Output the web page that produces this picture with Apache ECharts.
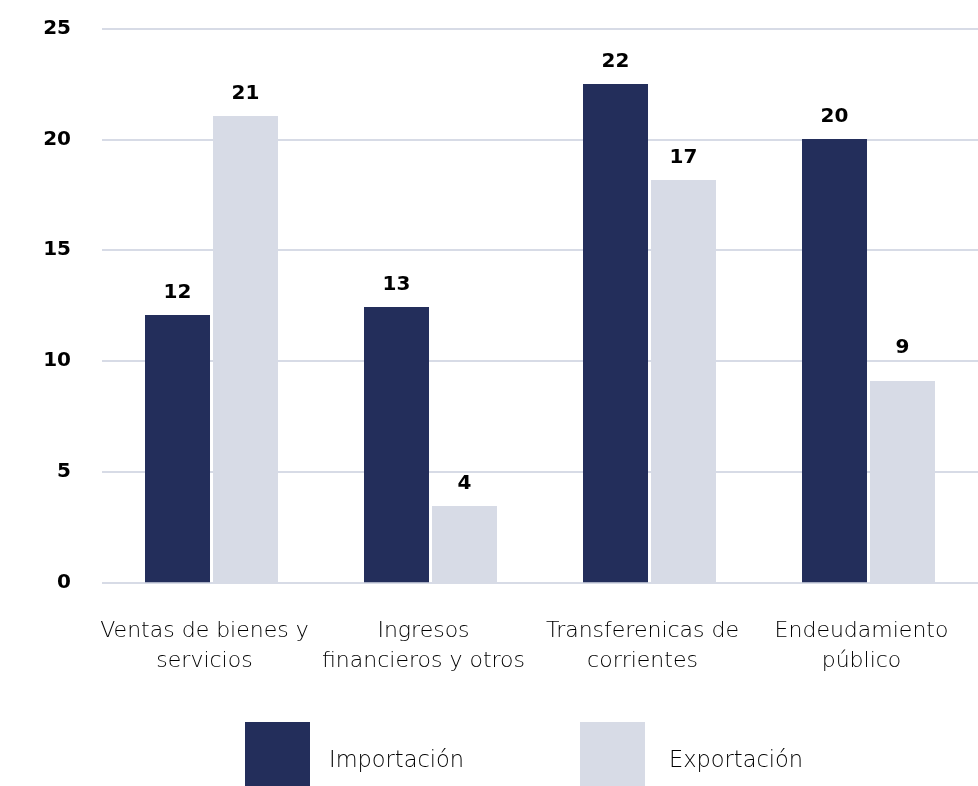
<!DOCTYPE html>
<html>
<head>
<meta charset="utf-8">
<script src="https://cdn.jsdelivr.net/npm/echarts@6/dist/echarts.min.js"></script>
<style>
html,body{margin:0;padding:0;background:#fff;}
#chart{width:978px;height:786px;}
</style>
</head>
<body>
<div id="chart"></div>
<script>
const categories = ['Ventas de bienes y\nservicios', 'Ingresos\nfinancieros y otros', 'Transferenicas de\ncorrientes', 'Endeudamiento\npúblico'];
const importacion = [12.07, 12.43, 22.5, 20.02];
const exportacion = [21.06, 3.45, 18.17, 9.09];
const importacionLabels = ['12', '13', '22', '20'];
const exportacionLabels = ['21', '4', '17', '9'];
const yTicks = [0, 5, 10, 15, 20, 25];

const NAVY = '#232e5b';
const LIGHT = '#d7dbe6';
const TEXT_FONT = "'DejaVu Sans', sans-serif";
const NUM_FONT = "'DejaVu Sans', sans-serif";

const chart = echarts.init(document.getElementById('chart'));

const labelStyle = {
  show: true,
  position: 'top',
  distance: 12,
  color: '#000',
  fontFamily: NUM_FONT,
  fontWeight: 'bold',
  fontSize: 20
};

function buildData(values) {
  return values.map(v => ({ value: v }));
}
const expData = buildData(exportacion);
expData[3].label = { distance: 23 };

function legendFor(name, left, gap) {
  return {
    data: [name], left: left, top: 722, padding: 0, itemWidth: 65, itemHeight: 65,
    icon: 'rect', selectedMode: false,
    formatter: n => '{t|' + n + '}',
    textStyle: {
      padding: [0, 0, 0, gap],
      rich: {
        t: { fontFamily: TEXT_FONT, fontWeight: 200, fontSize: 22.5, color: '#000', padding: [13, 0, 0, 0] }
      }
    }
  };
}

chart.setOption({
  animation: false,
  grid: { left: 102, right: 0, top: 28.7, bottom: 203.7, containLabel: false },
  legend: [
    legendFor('Importación', 245, 14),
    legendFor('Exportación', 580, 19)
  ],
  xAxis: {
    type: 'category',
    data: categories,
    axisLine: { show: false },
    axisTick: { show: false },
    axisLabel: {
      interval: 0,
      margin: 34,
      padding: [0, 14, 0, 0],
      fontFamily: TEXT_FONT,
      fontWeight: 200,
      fontSize: 22,
      lineHeight: 30,
      color: '#000'
    }
  },
  yAxis: {
    type: 'value',
    min: yTicks[0],
    max: yTicks[yTicks.length - 1],
    interval: 5,
    axisLine: { show: false },
    axisTick: { show: false },
    splitLine: { lineStyle: { color: LIGHT, width: 2 } },
    axisLabel: {
      margin: 31,
      fontFamily: NUM_FONT,
      fontWeight: 'bold',
      fontSize: 20,
      color: '#000'
    }
  },
  series: [
    {
      name: 'Importación',
      type: 'bar',
      barWidth: 65,
      barGap: '4.6%',
      itemStyle: { color: NAVY },
      label: Object.assign({}, labelStyle, { formatter: p => importacionLabels[p.dataIndex] }),
      data: buildData(importacion)
    },
    {
      name: 'Exportación',
      type: 'bar',
      barWidth: 65,
      itemStyle: { color: LIGHT },
      label: Object.assign({}, labelStyle, { formatter: p => exportacionLabels[p.dataIndex] }),
      data: expData
    }
  ]
});
</script>
</body>
</html>
